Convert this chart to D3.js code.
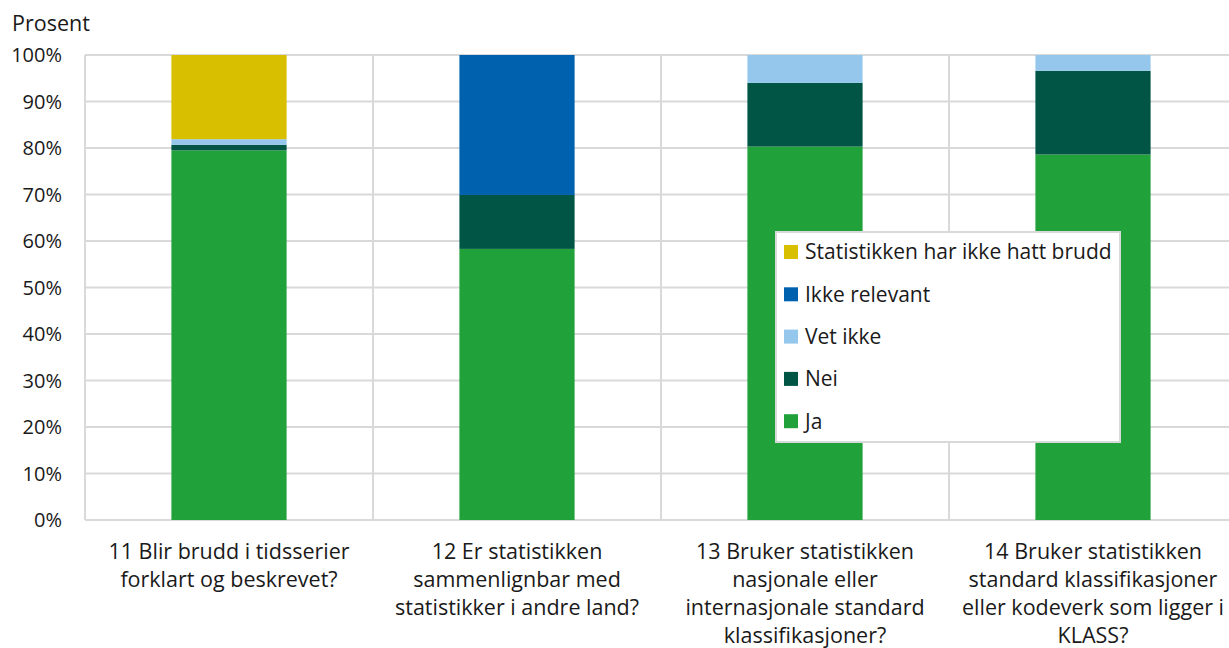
<!DOCTYPE html>
<html>
<head>
<meta charset="utf-8">
<script src="https://cdn.jsdelivr.net/npm/d3@7"></script>
<style>
  body { margin: 0; background: #fff; }
  svg { display: block; font-family: "Open Sans", sans-serif; }
</style>
</head>
<body>
<svg id="chart" width="1229" height="648"></svg>
<script>
// data (percent of answers per question)
const categories = [
  ["11 Blir brudd i tidsserier", "forklart og beskrevet?"],
  ["12 Er statistikken", "sammenlignbar med", "statistikker i andre land?"],
  ["13 Bruker statistikken", "nasjonale eller", "internasjonale standard", "klassifikasjoner?"],
  ["14 Bruker statistikken", "standard klassifikasjoner", "eller kodeverk som ligger i", "KLASS?"]
];
const seriesNames = ["Ja", "Nei", "Vet ikke", "Ikke relevant", "Statistikken har ikke hatt brudd"];
const ja = [79.5, 58.3, 80.3, 78.6];
const nei = [1.2, 11.6, 13.7, 18.0];
const vetIkke = [1.2, 0, 6.0, 3.4];
const ikkeRelevant = [0, 30.1, 0, 0];
const ikkeBrudd = [18.1, 0, 0, 0];
const yTicks = [0, 10, 20, 30, 40, 50, 60, 70, 80, 90, 100];
const colors = ["#21a13a", "#015545", "#95c7ec", "#0062ae", "#d8bf00"];

const svg = d3.select("#chart");
const margin = {left: 85, top: 55, bottom: 520, right: 1237};

// build rows for the stack
const rows = categories.map((c, i) => ({
  key: i,
  "Ja": ja[i], "Nei": nei[i], "Vet ikke": vetIkke[i],
  "Ikke relevant": ikkeRelevant[i], "Statistikken har ikke hatt brudd": ikkeBrudd[i]
}));

const x = d3.scaleBand().domain(d3.range(categories.length))
  .range([margin.left, margin.right]).paddingInner(0.6).paddingOuter(0.3);
const xCell = d3.scaleBand().domain(d3.range(categories.length))
  .range([margin.left, margin.right]);
const y = d3.scaleLinear().domain([0, 100]).range([margin.bottom, margin.top]);

// gridlines
svg.append("g").selectAll("line.h").data(yTicks).join("line")
  .attr("x1", margin.left).attr("x2", margin.right)
  .attr("y1", d => y(d)).attr("y2", d => y(d))
  .attr("stroke", "#d9d9d9").attr("stroke-width", 2);

svg.append("g").selectAll("line.v")
  .data(d3.range(categories.length + 1)).join("line")
  .attr("x1", d => margin.left + d * xCell.bandwidth())
  .attr("x2", d => margin.left + d * xCell.bandwidth())
  .attr("y1", y(100)).attr("y2", y(0))
  .attr("stroke", "#d9d9d9").attr("stroke-width", 2);

// stacked bars
let stack = d3.stack().keys(seriesNames)(rows);

svg.append("g").selectAll("g").data(stack).join("g")
  .attr("fill", (d, i) => colors[i])
  .selectAll("rect").data(d => d).join("rect")
  .attr("x", d => x(d.data.key))
  .attr("width", x.bandwidth())
  .attr("y", d => y(d[1]))
  .attr("height", d => y(d[0]) - y(d[1]));

// y tick labels
svg.append("g").selectAll("text").data(yTicks).join("text")
  .attr("x", 62).attr("y", d => y(d))
  .attr("dy", "0.35em")
  .attr("text-anchor", "end")
  .attr("font-size", 20).attr("fill", "#1a1a1a")
  .text(d => d + "%");

svg.append("text").attr("x", 12).attr("y", 31)
  .attr("font-size", 21.5).attr("fill", "#1a1a1a")
  .text("Prosent");

// category labels
let lab = svg.append("g").selectAll("text").data(categories).join("text")
  .attr("text-anchor", "middle")
  .attr("font-size", 21.5).attr("fill", "#1a1a1a")
  .attr("x", (d, i) => x(i) + x.bandwidth() / 2);
lab.selectAll("tspan").data(d => d).join("tspan")
  .attr("x", function() { return d3.select(this.parentNode).attr("x"); })
  .attr("y", (d, j) => 559 + j * 28)
  .text(d => d);

// legend
let legend = svg.append("g").attr("transform", "translate(776,232)");
legend.append("rect").attr("width", 344).attr("height", 210)
  .attr("fill", "#fff").attr("stroke", "#d9d9d9").attr("stroke-width", 2);

let legendItems = seriesNames.slice().reverse();
let item = legend.selectAll("g.item").data(legendItems).join("g")
  .attr("transform", (d, i) => `translate(8,${20 + i * 42.3})`);
item.append("rect").attr("y", -7).attr("width", 14).attr("height", 14)
  .attr("fill", d => colors[seriesNames.indexOf(d)]);
item.append("text").attr("x", 21).attr("dy", "0.35em")
  .attr("font-size", 21).attr("fill", "#1a1a1a")
  .text(d => d);
</script>
</body>
</html>
